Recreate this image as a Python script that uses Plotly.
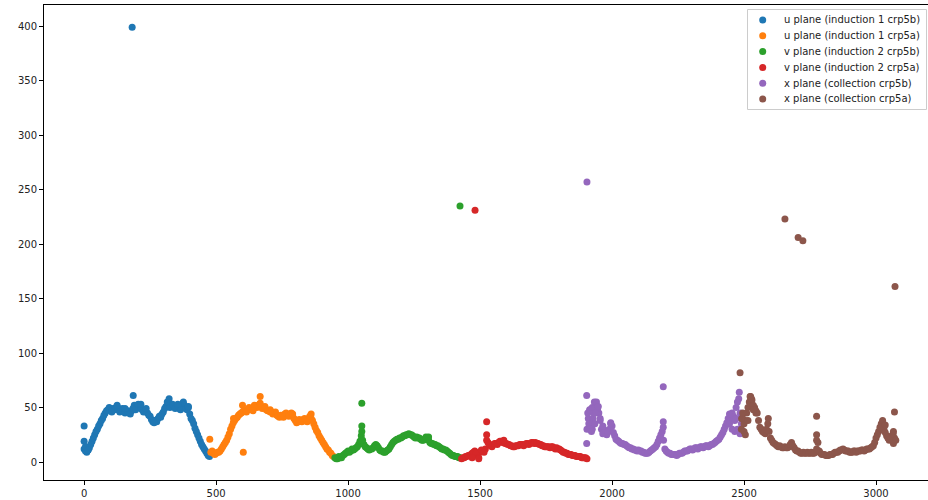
import plotly.graph_objects as go

# ---- data (channel index, value) ----
u5b_x = list(range(0, 480, 10))
u5b_y = [12, 9, 13, 19, 25, 30, 35, 40, 45, 48, 48, 49, 50, 48, 47, 47, 46, 45, 47, 52,
         50, 51, 48, 47, 45, 42, 37, 38, 40, 41, 46, 51, 54, 52, 51, 50, 49, 51, 52, 48,
         44, 38, 31, 25, 19, 14, 10, 6]
u5b_x2 = list(range(5, 480, 10))
u5b_y2 = [10, 11, 16, 22, 28, 33, 38, 43, 47, 50, 47, 48, 51, 46, 49, 45, 47, 44, 49, 48,
          53, 49, 46, 49, 43, 39, 38, 37, 42, 44, 49, 55, 50, 53, 49, 52, 48, 54, 49, 50,
          40, 35, 28, 22, 16, 12, 8, 5]
u5b_ex_x = [0, 0, 5, 15, 125, 186, 182, 322, 376, 395, 215, 265, 355, 105, 155]
u5b_ex_y = [33, 19, 14, 11, 52, 61, 399, 58, 55, 51, 53, 36, 53, 46, 49]

u5a_x = list(range(480, 950, 10))
u5a_y = [9, 8, 8, 9, 12, 16, 20, 26, 33, 38, 41, 44, 46, 48, 48, 49, 50, 51, 52, 51,
         50, 48, 47, 46, 45, 43, 41, 42, 44, 43, 44, 42, 38, 37, 38, 39, 38, 40, 40, 35,
         29, 24, 20, 16, 12, 9, 6]
u5a_x2 = list(range(485, 950, 10))
u5a_y2 = [10, 7, 9, 10, 14, 18, 23, 30, 36, 40, 43, 45, 47, 46, 50, 48, 52, 50, 53, 49,
          51, 47, 48, 44, 46, 42, 43, 41, 45, 42, 45, 40, 36, 39, 37, 40, 37, 42, 38, 32,
          27, 22, 18, 14, 11, 8, 5]
u5a_ex_x = [476, 603, 600, 667, 667, 790, 860, 705, 566, 640]
u5a_ex_y = [21, 9, 52, 60, 54, 44, 44, 46, 40, 47]

v5b_x = list(range(950, 1430, 10))
v5b_y = [4, 3, 4, 6, 8, 10, 10, 11, 13, 16, 24, 16, 13, 11, 12, 15, 15, 11, 10, 9,
         11, 14, 18, 20, 21, 22, 24, 25, 26, 25, 23, 23, 22, 20, 21, 22, 18, 17, 16, 15,
         13, 12, 11, 9, 7, 6, 5, 4]
v5b_x2 = list(range(955, 1430, 10))
v5b_y2 = [3, 5, 4, 7, 9, 9, 12, 12, 14, 19, 20, 14, 12, 12, 13, 16, 13, 10, 9, 10,
          12, 16, 19, 21, 22, 23, 24, 25, 25, 24, 22, 22, 21, 20, 23, 20, 17, 16, 15, 14,
          12, 11, 10, 8, 6, 5, 5, 4]
v5b_ex_x = [1052, 1052, 1052, 1050, 1424, 1305]
v5b_ex_y = [54, 33, 28, 20, 235, 23]

v5a_x = list(range(1430, 1910, 10))
v5a_y = [3, 4, 5, 6, 8, 10, 6, 9, 10, 12, 18, 15, 16, 17, 18, 19, 18, 17, 16, 15,
         14, 15, 16, 16, 16, 17, 17, 18, 18, 17, 16, 15, 14, 14, 14, 13, 13, 12, 10, 9,
         8, 7, 6, 6, 5, 5, 4, 4]
v5a_x2 = list(range(1435, 1910, 10))
v5a_y2 = [4, 5, 6, 7, 9, 8, 4, 11, 9, 20, 16, 14, 17, 16, 19, 18, 17, 16, 15, 14,
          15, 15, 16, 15, 17, 16, 18, 17, 17, 16, 15, 14, 14, 13, 14, 12, 12, 11, 9, 8,
          7, 7, 6, 5, 5, 4, 4, 3]
v5a_ex_x = [1525, 1525, 1481, 1495, 1470, 1590]
v5a_ex_y = [37, 25, 231, 3, 4, 20]

x5b_x = list(range(1910, 2500, 10))
x5b_y = [40, 35, 45, 52, 45, 30, 27, 25, 30, 33, 24, 20, 18, 17, 16, 14, 13, 12, 11, 11,
         10, 9, 8, 9, 11, 13, 16, 22, 28, 12, 9, 8, 7, 7, 7, 8, 9, 10, 11, 12,
         12, 13, 13, 14, 14, 15, 15, 16, 18, 20, 23, 27, 33, 40, 38, 42, 50, 58, 35]
x5b_x2 = list(range(1915, 2490, 10))
x5b_y2 = [48, 30, 50, 48, 38, 26, 29, 28, 35, 27, 21, 19, 17, 16, 15, 13, 12, 11, 10, 10,
          9, 8, 8, 10, 12, 14, 19, 25, 20, 10, 8, 7, 7, 6, 8, 8, 10, 10, 12, 11,
          13, 12, 14, 13, 15, 14, 16, 17, 19, 21, 25, 30, 36, 35, 45, 38, 55, 45]
x5b_ex_x = [1904, 1904, 1905, 1905, 1908, 1912, 1915, 1918, 1922, 1925, 1928, 1933, 1935,
            1938, 1941, 1945, 1948, 1955, 1965, 1995, 2194, 2194, 2194, 2482, 2485, 2475,
            2465, 2455, 2445, 2470]
x5b_ex_y = [61, 17, 257, 30, 45, 35, 30, 48, 28, 50, 40, 55, 35, 45, 55, 50, 51, 40, 33,
            36, 69, 37, 32, 64, 26, 30, 28, 30, 44, 40]

x5a_x = list(range(2490, 3080, 10))
x5a_y = [30, 35, 45, 55, 57, 50, 45, 32, 28, 26, 35, 22, 18, 16, 14, 14, 13, 13, 14, 18,
         13, 10, 9, 8, 8, 9, 8, 8, 9, 18, 8, 7, 6, 6, 7, 8, 9, 10, 11, 11,
         10, 9, 9, 10, 10, 10, 11, 11, 12, 13, 15, 22, 28, 35, 30, 24, 20, 24, 22]
x5a_x2 = list(range(2495, 3080, 10))
x5a_y2 = [40, 38, 50, 60, 52, 47, 38, 30, 27, 30, 28, 20, 17, 15, 15, 13, 14, 13, 16, 15,
          11, 10, 8, 9, 8, 8, 9, 8, 25, 10, 7, 7, 6, 7, 7, 9, 9, 11, 12, 10,
          10, 9, 10, 9, 10, 11, 10, 12, 12, 14, 18, 25, 32, 36, 27, 22, 21, 26, 20]
x5a_ex_x = [2485, 2491, 2500, 2495, 2505, 2523, 2528, 2545, 2592, 2775, 2775, 2775, 3070,
            3072, 2655, 2705, 2723, 3025, 3035, 3066, 3066, 2515, 2535]
x5a_ex_y = [82, 40, 28, 45, 25, 60, 58, 45, 40, 42, 20, 12, 46, 161, 223, 206, 203, 38,
            34, 28, 17, 38, 48]

names = ["u plane (induction 1 crp5b)", "u plane (induction 1 crp5a)",
         "v plane (induction 2 crp5b)", "v plane (induction 2 crp5a)",
         "x plane (collection crp5b)", "x plane (collection crp5a)"]
colors = ["#1f77b4", "#ff7f0e", "#2ca02c", "#d62728", "#9467bd", "#8c564b"]

series = [
    (u5b_x + u5b_x2 + u5b_ex_x, u5b_y + u5b_y2 + u5b_ex_y),
    (u5a_x + u5a_x2 + u5a_ex_x, u5a_y + u5a_y2 + u5a_ex_y),
    (v5b_x + v5b_x2 + v5b_ex_x, v5b_y + v5b_y2 + v5b_ex_y),
    (v5a_x + v5a_x2 + v5a_ex_x, v5a_y + v5a_y2 + v5a_ex_y),
    (x5b_x + x5b_x2 + x5b_ex_x, x5b_y + x5b_y2 + x5b_ex_y),
    (x5a_x + x5a_x2 + x5a_ex_x, x5a_y + x5a_y2 + x5a_ex_y),
]

fig = go.Figure()
for (xs, ys), name, col in zip(series, names, colors):
    fig.add_trace(go.Scatter(x=xs, y=ys, mode="markers", name=name, showlegend=False,
                             marker=dict(color=col, size=7, line=dict(width=0))))

# ---- layout geometry (pixels) ----
W, H = 928, 500
ML, MR, MT, MB = 44, 0, 5, 20
PW, PH = W - ML - MR, H - MT - MB


def px(x):
    return (x - ML) / PW


def py(y):
    return 1 - (y - MT) / PH


shapes = [dict(type="rect", xref="paper", yref="paper",
               x0=px(747.5), x1=px(926.5), y0=py(109.5), y1=py(9.5),
               fillcolor="rgba(255,255,255,0.8)", line=dict(color="#cccccc", width=1),
               layer="above")]
annotations = []
row_y = [20, 35.8, 51.6, 67.4, 83.2, 99]
for name, col, ry in zip(names, colors, row_y):
    shapes.append(dict(type="circle", xref="paper", yref="paper",
                       x0=px(762.7 - 3.5), x1=px(762.7 + 3.5),
                       y0=py(ry + 3.5), y1=py(ry - 3.5),
                       fillcolor=col, line=dict(width=0), layer="above"))
    annotations.append(dict(xref="paper", yref="paper", x=px(781.5), y=py(ry),
                            xanchor="left", yanchor="middle", showarrow=False,
                            text=name, font=dict(family="DejaVu Sans", size=10, color="#222")))

fig.update_layout(
    width=W, height=H,
    margin=dict(l=ML, r=MR, t=MT, b=MB),
    plot_bgcolor="white", paper_bgcolor="white",
    font=dict(family="DejaVu Sans", size=10, color="#222"),
    showlegend=False,
    shapes=shapes, annotations=annotations,
    xaxis=dict(range=[-152, 3197], tickvals=[0, 500, 1000, 1500, 2000, 2500, 3000],
               showgrid=False, zeroline=False, showline=True, linecolor="black",
               linewidth=1, mirror=True, ticks="outside", ticklen=4, tickcolor="black",
               automargin=False),
    yaxis=dict(range=[-16.5, 419.3], tickvals=[0, 50, 100, 150, 200, 250, 300, 350, 400],
               showgrid=False, zeroline=False, showline=True, linecolor="black",
               linewidth=1, mirror=False, ticks="outside", ticklen=4, tickcolor="black",
               automargin=False),
)
fig.write_html("out.html", config={"displayModeBar": False},
               post_script="document.body.style.margin='0';document.body.style.overflow='hidden';")
